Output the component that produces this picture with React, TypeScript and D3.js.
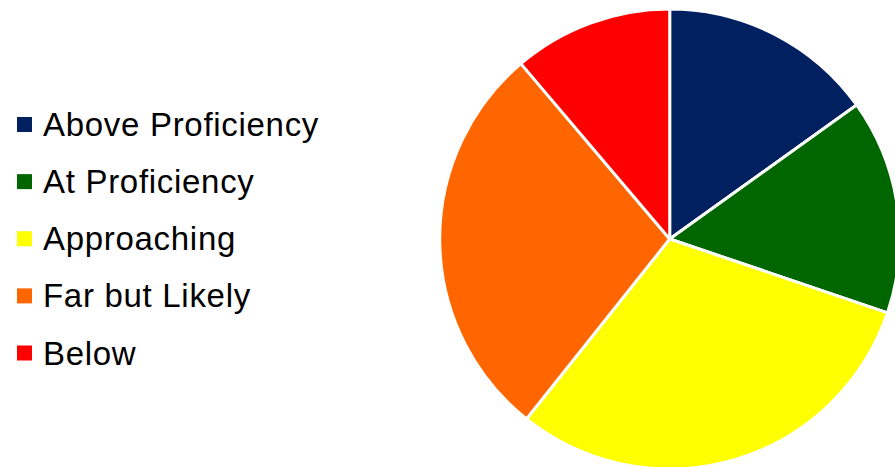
import React from "react";
import * as d3 from "d3";

const categories = ["Above Proficiency", "At Proficiency", "Approaching", "Far but Likely", "Below"];
const values = [15.1, 15.1, 30.5, 28.1, 11.2];
const colors = ["#002060", "#006600", "#FFFF00", "#FF6600", "#FF0000"];

const W = 895;
const H = 467;

export default function App() {
  const cx = 669.7;
  const cy = 239;
  const r = 230;
  const pie = d3.pie<number>().sort(null).value((d) => d);
  const arcs = pie(values);
  const arc = d3.arc<d3.PieArcDatum<number>>().innerRadius(0).outerRadius(r);
  const legendY = d3.scalePoint<string>().domain(categories).range([124.5, 353]);
  return (
    <svg width={W} height={H} style={{ position: "absolute", left: 0, top: 0, background: "#fff" }}>
      <g transform={`translate(${cx},${cy})`}>
        {arcs.map((a, i) => (
          <path key={i} d={arc(a) || ""} fill={colors[i]} stroke="#fff" strokeWidth={3} strokeLinejoin="round" />
        ))}
      </g>
      <g>
        {categories.map((c, i) => {
          const y = legendY(c)!;
          return (
            <g key={c}>
              <rect x={17} y={y - 7.5} width={15} height={15} fill={colors[i]} />
              <text x={43} y={y + 11.5} fontFamily="Liberation Sans, Arial, sans-serif" fontSize={33} letterSpacing={0.7} fill="#000">
                {c}
              </text>
            </g>
          );
        })}
      </g>
    </svg>
  );
}
